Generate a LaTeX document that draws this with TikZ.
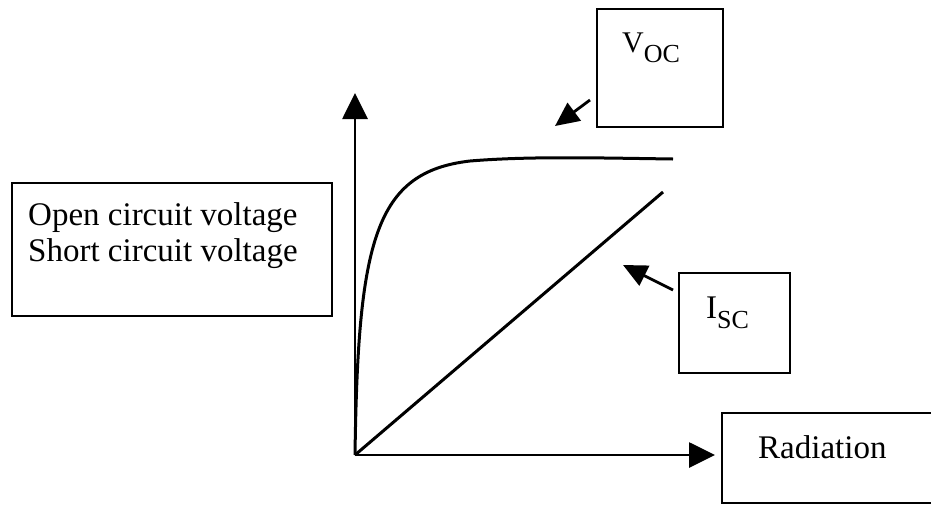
\documentclass[tikz,border=0pt]{standalone}
\usepackage{fontspec}
\setmainfont{Liberation Serif}
\usetikzlibrary{arrows.meta}
\newcommand\subtxt[1]{\raisebox{-10pt}{\fontsize{26}{26}\selectfont #1}}
\begin{document}
\begin{tikzpicture}[x=1pt,y=-1pt,
  box/.style={draw,line width=2.4pt,rectangle,inner sep=0pt},
  lbl/.style={inner sep=0pt,font=\fontsize{33}{36}\selectfont},
  axis/.style={line width=2.8pt,-{Triangle[length=26pt,width=25pt]}},
  pointer/.style={line width=2.8pt,-{Triangle[length=24pt,width=22pt]}},
  plot/.style={line width=3pt}]
\clip (0,0) rectangle (931,504);
\fill[white] (0,0) rectangle (931,504);
% boxes
\node[box,minimum width=320pt,minimum height=133pt] (leftbox) at (172,249.5) {};
\node[box,minimum width=126pt,minimum height=118pt] (vocbox) at (660,68) {};
\node[box,minimum width=111pt,minimum height=100pt] (iscbox) at (734.5,323) {};
\node[box,minimum width=223pt,minimum height=90pt] (radbox) at (833.5,458) {};
% texts
\node[lbl,anchor=north west,align=left] (lefttext) at (28,202) {Open circuit voltage\\Short circuit voltage};
\node[lbl,anchor=base west,font=\fontsize{30}{36}\selectfont] (voctext) at (622,52) {V\subtxt{OC}};
\node[lbl,anchor=base west] (isctext) at (706,318) {I\subtxt{SC}};
\node[lbl,anchor=base west] (radtext) at (758,458) {Radiation};
% axes
\coordinate (o) at (355,455);
\coordinate (ytop) at (355,93);
\coordinate (xend) at (715,455);
\draw[axis] (o) -- (ytop);
\draw[axis] (o) -- (xend);
% curves
\coordinate (vend) at (673,159);
\coordinate (iend) at (663,192);
\draw[plot] (o) .. controls (358,240) and (375,172) .. (470,161)
            .. controls (530,156) and (600,158) .. (vend);
\draw[plot] (o) -- (iend);
% pointers
\coordinate (vtail) at (590,100);
\coordinate (vtip) at (555,126);
\coordinate (itail) at (673,290);
\coordinate (itip) at (623,265);
\draw[pointer] (vtail) -- (vtip);
\draw[pointer] (itail) -- (itip);
\end{tikzpicture}
\end{document}
